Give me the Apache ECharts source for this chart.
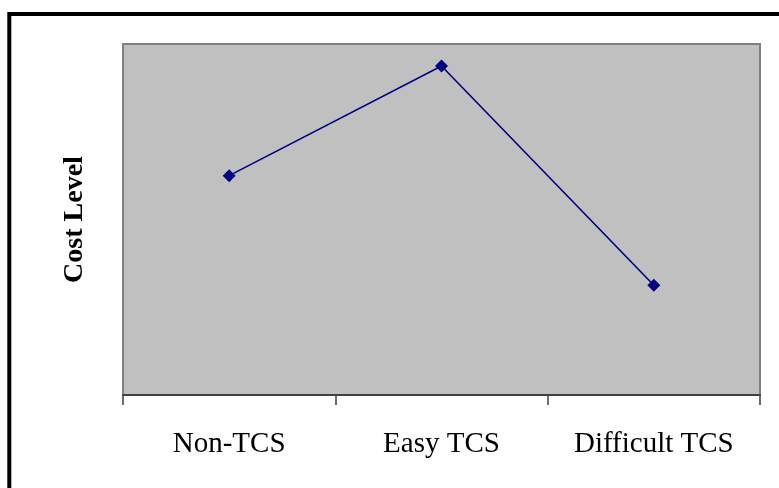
<!DOCTYPE html>
<html>
<head>
<meta charset="utf-8">
<script src="https://cdn.jsdelivr.net/npm/echarts@6/dist/echarts.min.js"></script>
<style>
  html, body { margin: 0; padding: 0; background: #ffffff; }
  #chart { width: 779px; height: 488px; }
</style>
</head>
<body>
<div id="chart"></div>
<script>
// Categories and cost levels for each scenario
const categories = ['Non-TCS', 'Easy TCS', 'Difficult TCS'];
const costLevel = [5, 7.5, 2.5];
const yMin = 0;
const yMax = 8;

const serif = "'Liberation Serif', 'Times New Roman', serif";

const chart = echarts.init(document.getElementById('chart'), null, { renderer: 'canvas' });

chart.setOption({
  animation: false,
  backgroundColor: '#ffffff',
  graphic: [
    {
      // outer frame, running off the right and bottom edges
      type: 'rect',
      shape: { x: 9.3, y: 14, width: 800, height: 520 },
      style: { fill: 'none', stroke: '#000000', lineWidth: 4 },
      silent: true,
      z: -1
    }
  ],
  grid: {
    left: 123,
    top: 44,
    right: 19,
    bottom: 93,
    show: true,
    backgroundColor: '#C0C0C0',
    borderColor: '#808080',
    borderWidth: 2
  },
  xAxis: {
    type: 'category',
    data: categories,
    boundaryGap: true,
    axisLine: { show: true, lineStyle: { color: '#404040', width: 2 } },
    axisTick: { show: true, length: 10, lineStyle: { color: '#404040', width: 1.5 } },
    axisLabel: {
      margin: 35,
      color: '#000000',
      fontFamily: serif,
      fontSize: 29
    },
    splitLine: { show: false }
  },
  yAxis: {
    type: 'value',
    min: yMin,
    max: yMax,
    name: 'Cost Level',
    nameLocation: 'middle',
    nameRotate: 90,
    nameGap: 34,
    nameTextStyle: {
      color: '#000000',
      fontFamily: serif,
      fontSize: 28,
      fontWeight: 'bold'
    },
    axisLine: { show: false },
    axisTick: { show: false },
    axisLabel: { show: false },
    splitLine: { show: false }
  },
  series: [
    {
      type: 'line',
      data: costLevel,
      symbol: 'diamond',
      symbolSize: 13,
      itemStyle: { color: '#000080' },
      lineStyle: { color: '#000080', width: 1.6 },
      silent: true
    }
  ]
});
</script>
</body>
</html>
